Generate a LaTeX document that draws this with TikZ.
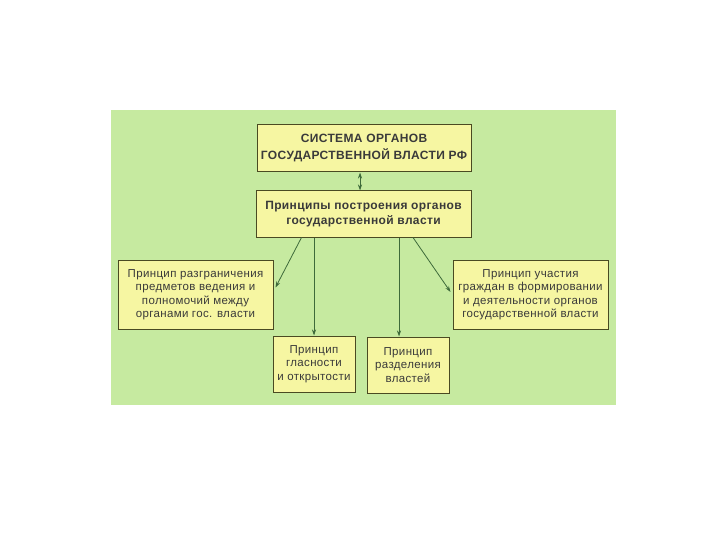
\documentclass[tikz,border=0pt]{standalone}
\usepackage{fontspec}
\setmainfont{Liberation Sans}
\usetikzlibrary{arrows.meta}
\definecolor{bg}{HTML}{C6EAA0}
\definecolor{boxfill}{HTML}{F6F6A2}
\definecolor{boxline}{HTML}{4A4A22}
\definecolor{arr}{HTML}{3E6A3A}
\definecolor{txt}{HTML}{3A3A3A}
\begin{document}
\begin{tikzpicture}[x=1pt,y=-1pt,
  boxstyle/.style={draw=boxline, line width=1pt, fill=boxfill, text=txt, align=center, inner sep=0pt, font=\fontsize{11.5}{13.5}\selectfont\addfontfeatures{LetterSpace=3}},
  arrstyle/.style={draw=arr, line width=0.8pt, -{Stealth[length=6pt,width=4pt]}}]
\useasboundingbox (0,0) rectangle (720,540);
\fill[white] (0,0) rectangle (720,540);
\fill[bg] (111,110) rectangle (616,405);
\node[boxstyle, minimum width=214pt, minimum height=47pt, font=\fontsize{12}{17}\selectfont\bfseries\addfontfeatures{LetterSpace=3}] (b1) at (364,148.5) {СИСТЕМА ОРГАНОВ\\ГОСУДАРСТВЕННОЙ ВЛАСТИ РФ};
\node[boxstyle, minimum width=215pt, minimum height=46pt, font=\fontsize{12}{14.5}\selectfont\bfseries\addfontfeatures{LetterSpace=3}] (b2) at (363.5,214) {Принципы построения органов\\государственной власти};
\node[boxstyle, minimum width=155pt, minimum height=69pt] (bl) at (195.5,294.5) {Принцип разграничения\\предметов ведения и\\полномочий между\\органами гос. власти};
\node[boxstyle, minimum width=82pt, minimum height=56pt] (bcl) at (314,364) {Принцип\\гласности\\и открытости};
\node[boxstyle, minimum width=82pt, minimum height=56pt] (bcr) at (408,365) {Принцип\\разделения\\властей};
\node[boxstyle, minimum width=155pt, minimum height=69pt] (br) at (530.5,294.5) {Принцип участия\\граждан в формировании\\и деятельности органов\\государственной власти};
\draw[arrstyle, {Stealth[length=6pt,width=4pt]}-{Stealth[length=6pt,width=4pt]}] ([xshift=-4pt]b1.south) -- ([xshift=-3.5pt]b2.north);
\draw[arrstyle] (b2.south -| bcl.north) -- (bcl.north);
\draw[arrstyle] ([xshift=35.5pt]b2.south) -- ([xshift=-9pt]bcr.north);
\draw[arrstyle] ([xshift=-62pt]b2.south) -- ([shift={(2pt,7pt)}]bl.east);
\draw[arrstyle] ([xshift=49.5pt]b2.south) -- ([shift={(-2pt,2.5pt)}]br.west);
\end{tikzpicture}
\end{document}
